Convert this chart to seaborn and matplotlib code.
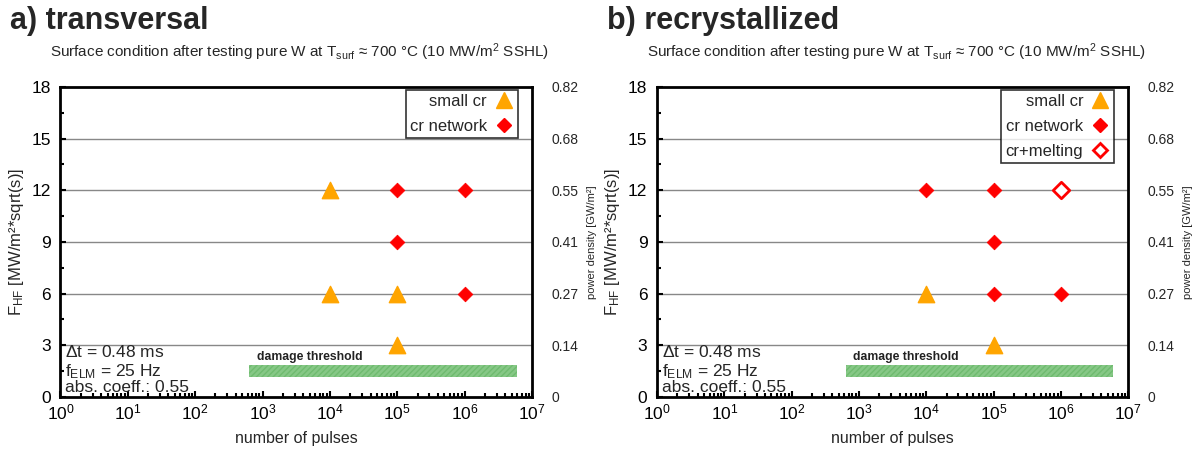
import numpy as np
import pandas as pd
import matplotlib
matplotlib.use('Agg')
import matplotlib.pyplot as plt
import seaborn as sns
from matplotlib.lines import Line2D
from matplotlib.ticker import FixedLocator, LogLocator, NullFormatter

# data: panel a) transversal
a_small_x = [1e4, 1e4, 1e5, 1e5]
a_small_y = [12, 6, 6, 3]
a_net_x = [1e5, 1e6, 1e5, 1e6]
a_net_y = [12, 12, 9, 6]

# data: panel b) recrystallized
b_small_x = [1e4, 1e5]
b_small_y = [6, 3]
b_net_x = [1e4, 1e5, 1e5, 1e5, 1e6]
b_net_y = [12, 12, 9, 6, 6]
b_melt_x = [1e6]
b_melt_y = [12]

# damage threshold band (pulses, F_HF)
thr_x = [6.3e2, 6.0e6]
thr_y = [1.15, 1.85]

y_ticks = [0, 3, 6, 9, 12, 15, 18]
pd_labels = ['0', '0.14', '0.27', '0.41', '0.55', '0.68', '0.82']

sns.set_theme(style='white')
plt.rcParams['font.family'] = ['Liberation Sans', 'DejaVu Sans']
plt.rcParams['mathtext.fontset'] = 'custom'
plt.rcParams['mathtext.rm'] = 'Liberation Sans'
plt.rcParams['mathtext.it'] = 'Liberation Sans'

fig = plt.figure(figsize=(11.97, 4.5), dpi=100)

ORANGE = '#ffa500'
RED = '#ff0000'


def make_df(xs, ys, kind):
    return pd.DataFrame({'pulses': xs, 'F': ys, 'kind': kind})


def draw_panel(rect, title, small, net, melt=None):
    ax = fig.add_axes(rect)
    ax.set_xscale('log')
    ax.set_xlim(1, 1e7)
    ax.set_ylim(0, 18)

    for yv in y_ticks[1:-1]:
        ax.axhline(yv, color='#888888', lw=1, zorder=0)

    ax.barh(y=np.mean(thr_y), width=thr_x[1] - thr_x[0], left=thr_x[0],
            height=thr_y[1] - thr_y[0], color='#86c886', edgecolor='#6fbb6f',
            hatch='//////', lw=0, zorder=1)
    ax.text(thr_x[0] * 1.3, thr_y[1] + 0.3, 'damage threshold', fontsize=8.8,
            fontweight='bold', color='#222222')

    ds = make_df(*small, 'small cr')
    sns.scatterplot(data=ds, x='pulses', y='F', marker='^', s=140,
                    color=ORANGE, edgecolor=ORANGE, ax=ax, zorder=3, legend=False)
    dn = make_df(*net, 'cr network')
    sns.scatterplot(data=dn, x='pulses', y='F', marker='D', s=55,
                    color=RED, edgecolor=RED, ax=ax, zorder=3, legend=False)
    handles = [
        Line2D([], [], ls='none', marker='^', ms=11, color=ORANGE, label='small cr'),
        Line2D([], [], ls='none', marker='D', ms=7, color=RED, label='cr network'),
    ]
    if melt is not None:
        dm = make_df(*melt, 'cr+melting')
        sns.scatterplot(data=dm, x='pulses', y='F', marker='D', s=70,
                        facecolor='white', edgecolor=RED, linewidth=2,
                        ax=ax, zorder=3, legend=False)
        handles.append(Line2D([], [], ls='none', marker='D', ms=7, mfc='white',
                              mec=RED, mew=2, label='cr+melting'))

    leg = ax.legend(handles=handles, loc='upper right', markerfirst=False,
                    fontsize=12, frameon=True, fancybox=False, edgecolor='black',
                    borderpad=0.25, handletextpad=0.4, labelspacing=0.6,
                    handlelength=1.2, borderaxespad=0,
                    bbox_to_anchor=(0.97, 0.99))
    leg.get_frame().set_linewidth(1.2)

    ax.set_yticks(y_ticks)
    ax.yaxis.set_minor_locator(FixedLocator(np.arange(1.5, 18, 3)))
    ax.xaxis.set_major_locator(LogLocator(base=10, numticks=10))
    ax.xaxis.set_minor_locator(LogLocator(base=10, subs=np.arange(2, 10), numticks=10))
    ax.xaxis.set_minor_formatter(NullFormatter())
    ax.tick_params(axis='both', which='both', direction='in', labelsize=12.5,
                   colors='black', width=1.5)
    ax.tick_params(which='major', length=4)
    ax.tick_params(which='minor', length=3)
    ax.tick_params(axis='y', right=True, left=True, pad=7)
    ax.tick_params(axis='x', bottom=True, top=False, pad=4)
    ax.tick_params(axis='x', which='minor', bottom=True, top=False)
    for sp in ax.spines.values():
        sp.set_color('black')
        sp.set_linewidth(2)

    ax.set_xlabel('number of pulses', fontsize=11.5, labelpad=6)
    ax.set_ylabel(r'F$_{\rm HF}$ [MW/m²*sqrt(s)]', fontsize=12, labelpad=4)

    ax2 = ax.twinx()
    ax2.set_ylim(0, 18)
    ax2.set_yticks(y_ticks)
    ax2.set_yticklabels(pd_labels)
    ax2.tick_params(axis='y', length=0, labelsize=10, pad=14)
    ax2.set_ylabel('power density [GW/m²]', fontsize=8, labelpad=6)
    for sp in ax2.spines.values():
        sp.set_visible(False)

    ax.text(0.01, 0.145, r'$\Delta$t = 0.48 ms', transform=ax.transAxes,
            fontsize=12.5, va='center')
    ax.text(0.01, 0.082, r'f$_{\rm ELM}$ = 25 Hz', transform=ax.transAxes,
            fontsize=12.5, va='center')
    ax.text(0.01, 0.029, 'abs. coeff.: 0.55', transform=ax.transAxes,
            fontsize=12.5, va='center')

    x0 = rect[0]
    fig.text(x0 - 0.042, 0.953, title, fontsize=22, fontweight='bold', va='center')
    fig.text(x0 + rect[2] / 2 + 0.003, 0.883,
             r'Surface condition after testing pure W at T$_{\rm surf}$ ≈ 700 °C (10 MW/m$^{2}$ SSHL)',
             fontsize=11, ha='center', va='center')
    return ax


draw_panel([0.0505, 0.118, 0.394, 0.689], 'a) transversal',
           (a_small_x, a_small_y), (a_net_x, a_net_y))
draw_panel([0.549, 0.118, 0.3935, 0.689], 'b) recrystallized',
           (b_small_x, b_small_y), (b_net_x, b_net_y), (b_melt_x, b_melt_y))

fig.savefig('out.png', dpi=100)
